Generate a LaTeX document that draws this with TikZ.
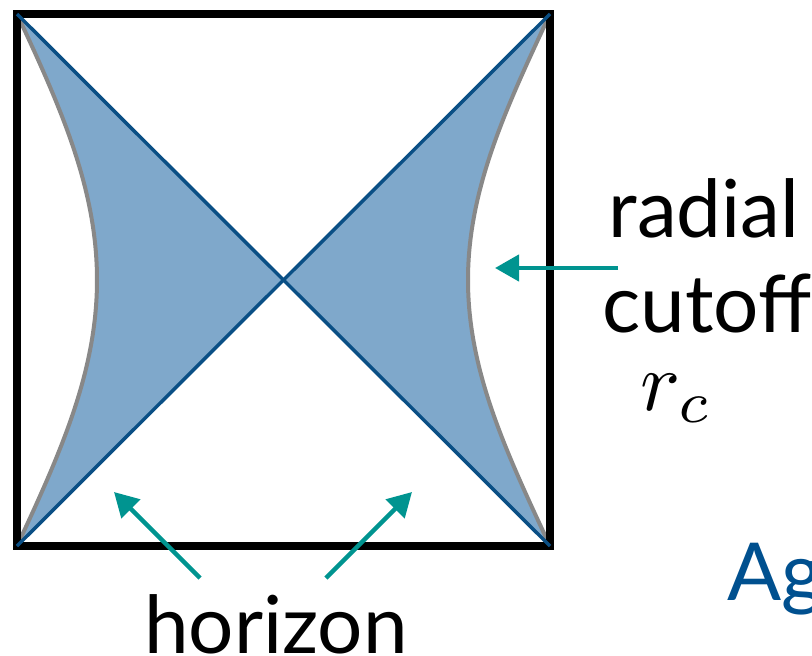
\documentclass[tikz,border=0pt]{standalone}
\usepackage{fontspec}
\setmainfont{Lato}
\usetikzlibrary{arrows.meta}
\definecolor{fillblue}{HTML}{7FA8CB}
\definecolor{lineblue}{HTML}{0A4F85}
\definecolor{teal2}{HTML}{009490}
\definecolor{agblue}{HTML}{00508F}
\definecolor{curvegray}{HTML}{888888}
\tikzset{
  frame/.style={line width=7.5pt, draw=black},
  cutcurve/.style={line width=4pt, draw=curvegray},
  horline/.style={line width=3.5pt, draw=lineblue},
  pointer/.style={line width=4.5pt, draw=teal2, -{Triangle[length=24pt,width=26pt]}},
  bigtext/.style={font=\fontsize{80}{96}\selectfont, inner sep=0pt, anchor=base},
}
\begin{document}
\begin{tikzpicture}[x=1pt,y=-1pt]
\useasboundingbox (0,0) rectangle (812,656);
\clip (0,0) rectangle (812,656);
\coordinate (TL) at (17,14);
\coordinate (TR) at (550,14);
\coordinate (BL) at (17,546);
\coordinate (BR) at (550,546);
\coordinate (C) at (283.5,280);
% fills
\fill[fillblue] (TL) .. controls (62,110) and (97,190) .. (97,280) .. controls (97,370) and (62,450) .. (BL) -- (C) -- cycle;
\fill[fillblue] (TR) .. controls (505,110) and (468,190) .. (468,280) .. controls (468,370) and (505,450) .. (BR) -- (C) -- cycle;
% curves
\draw[cutcurve] (TL) .. controls (62,110) and (97,190) .. (97,280) .. controls (97,370) and (62,450) .. (BL);
\draw[cutcurve] (TR) .. controls (505,110) and (468,190) .. (468,280) .. controls (468,370) and (505,450) .. (BR);
% frame
\draw[frame] (TL) rectangle (BR);
% horizons
\draw[horline] (TL) -- (BR);
\draw[horline] (BL) -- (TR);
% labels
\node[bigtext] (radial) at (704,237) {radial};
\node[bigtext] (cutoff) at (707,332) {cutoff};
\node[inner sep=0pt, anchor=base, scale=8.4] (rc) at (677,410) {$r_c$};
\node[bigtext] (horizon) at (276,653) {horizon};
\node[bigtext, anchor=base west, text=agblue] (ag) at (727,600) {Ag};
% arrows
\coordinate (a1s) at (618,268);
\coordinate (a1e) at (495,268);
\coordinate (a2s) at (200,578);
\coordinate (a2e) at (114,492);
\coordinate (a3s) at (326,578);
\coordinate (a3e) at (412,492);
\draw[pointer] (a1s) -- (a1e);
\draw[pointer] (a2s) -- (a2e);
\draw[pointer] (a3s) -- (a3e);
\end{tikzpicture}
\end{document}
